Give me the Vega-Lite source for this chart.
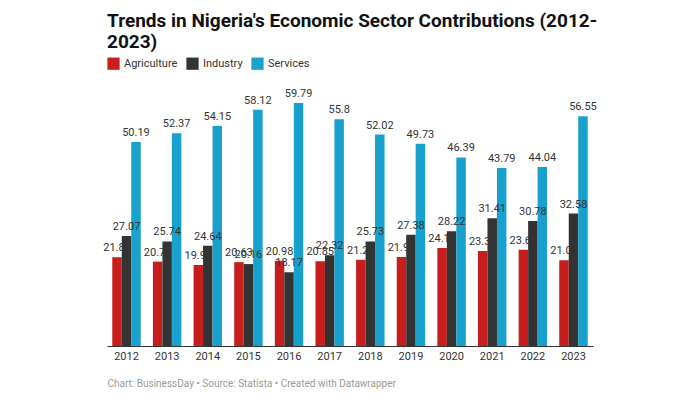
{
  "$schema": "https://vega.github.io/schema/vega-lite/v6.json",
  "width": 486,
  "height": 252,
  "autosize": {"type": "none"},
  "padding": {"left": 107, "top": 94, "right": 107, "bottom": 54},
  "background": "white",
  "title": {
    "text": ["Trends in Nigeria's Economic Sector Contributions (2012-", "2023)"],
    "anchor": "start",
    "frame": "group",
    "font": "Roboto",
    "fontSize": 19,
    "fontWeight": "bold",
    "color": "#111111",
    "lineHeight": 21,
    "offset": 5
  },
  "data": {
    "values": [
      {"Year": "2012", "Sector": "Agriculture", "Value": 21.86},
      {"Year": "2012", "Sector": "Industry", "Value": 27.07},
      {"Year": "2012", "Sector": "Services", "Value": 50.19},
      {"Year": "2013", "Sector": "Agriculture", "Value": 20.76},
      {"Year": "2013", "Sector": "Industry", "Value": 25.74},
      {"Year": "2013", "Sector": "Services", "Value": 52.37},
      {"Year": "2014", "Sector": "Agriculture", "Value": 19.93},
      {"Year": "2014", "Sector": "Industry", "Value": 24.64},
      {"Year": "2014", "Sector": "Services", "Value": 54.15},
      {"Year": "2015", "Sector": "Agriculture", "Value": 20.63},
      {"Year": "2015", "Sector": "Industry", "Value": 20.16},
      {"Year": "2015", "Sector": "Services", "Value": 58.12},
      {"Year": "2016", "Sector": "Agriculture", "Value": 20.98},
      {"Year": "2016", "Sector": "Industry", "Value": 18.17},
      {"Year": "2016", "Sector": "Services", "Value": 59.79},
      {"Year": "2017", "Sector": "Agriculture", "Value": 20.85},
      {"Year": "2017", "Sector": "Industry", "Value": 22.32},
      {"Year": "2017", "Sector": "Services", "Value": 55.8},
      {"Year": "2018", "Sector": "Agriculture", "Value": 21.21},
      {"Year": "2018", "Sector": "Industry", "Value": 25.73},
      {"Year": "2018", "Sector": "Services", "Value": 52.02},
      {"Year": "2019", "Sector": "Agriculture", "Value": 21.91},
      {"Year": "2019", "Sector": "Industry", "Value": 27.38},
      {"Year": "2019", "Sector": "Services", "Value": 49.73},
      {"Year": "2020", "Sector": "Agriculture", "Value": 24.14},
      {"Year": "2020", "Sector": "Industry", "Value": 28.22},
      {"Year": "2020", "Sector": "Services", "Value": 46.39},
      {"Year": "2021", "Sector": "Agriculture", "Value": 23.36},
      {"Year": "2021", "Sector": "Industry", "Value": 31.41},
      {"Year": "2021", "Sector": "Services", "Value": 43.79},
      {"Year": "2022", "Sector": "Agriculture", "Value": 23.69},
      {"Year": "2022", "Sector": "Industry", "Value": 30.78},
      {"Year": "2022", "Sector": "Services", "Value": 44.04},
      {"Year": "2023", "Sector": "Agriculture", "Value": 21.07},
      {"Year": "2023", "Sector": "Industry", "Value": 32.58},
      {"Year": "2023", "Sector": "Services", "Value": 56.55}
    ]
  },
  "encoding": {
    "x": {
      "field": "Year",
      "type": "nominal",
      "scale": {"paddingInner": 0.3, "paddingOuter": 0.13},
      "axis": {
        "title": "Chart: BusinessDay • Source: Statista • Created with Datawrapper",
        "titleAnchor": "start",
        "titleAlign": "left",
        "titleFont": "Roboto",
        "titleFontSize": 10,
        "titleFontWeight": "normal",
        "titleColor": "#9a9a9a",
        "titlePadding": 17,
        "labelAngle": 0,
        "labelFont": "Roboto",
        "labelFontSize": 11,
        "labelColor": "#333333",
        "labelPadding": 4,
        "ticks": false,
        "domainColor": "#333333",
        "domainWidth": 1
      }
    },
    "xOffset": {"field": "Sector", "type": "nominal", "scale": {"paddingInner": 0, "paddingOuter": 0}},
    "y": {
      "field": "Value",
      "type": "quantitative",
      "scale": {"domain": [0, 62], "nice": false},
      "axis": null
    }
  },
  "layer": [
    {
      "transform": [{"filter": "datum.Sector === 'Agriculture'"}],
      "mark": {"type": "bar"},
      "encoding": {
        "color": {
          "field": "Sector",
          "type": "nominal",
          "scale": {"domain": ["Agriculture", "Industry", "Services"], "range": ["#c71e1d", "#333333", "#18a1cd"]},
          "legend": {
            "title": null,
            "orient": "top",
            "direction": "horizontal",
            "symbolType": "square",
            "symbolSize": 150,
            "symbolStrokeWidth": 0,
            "labelFont": "Roboto",
            "labelFontSize": 11,
            "labelColor": "#333333",
            "columnPadding": 8,
            "offset": 24
          }
        }
      }
    },
    {
      "transform": [{"filter": "datum.Sector === 'Agriculture'"}],
      "mark": {"type": "text", "baseline": "bottom", "dy": -4, "font": "Roboto", "fontSize": 11, "color": "#333333"},
      "encoding": {"text": {"field": "Value", "type": "quantitative"}}
    },
    {
      "transform": [{"filter": "datum.Sector === 'Industry'"}],
      "mark": {"type": "bar"},
      "encoding": {"color": {"field": "Sector", "type": "nominal"}}
    },
    {
      "transform": [{"filter": "datum.Sector === 'Services'"}],
      "mark": {"type": "bar"},
      "encoding": {"color": {"field": "Sector", "type": "nominal"}}
    },
    {
      "transform": [{"filter": "datum.Sector === 'Industry'"}],
      "mark": {"type": "text", "baseline": "bottom", "dy": -4, "font": "Roboto", "fontSize": 11, "color": "#333333"},
      "encoding": {"text": {"field": "Value", "type": "quantitative"}}
    },
    {
      "transform": [{"filter": "datum.Sector === 'Services'"}],
      "mark": {"type": "text", "baseline": "bottom", "dy": -4, "font": "Roboto", "fontSize": 11, "color": "#333333"},
      "encoding": {"text": {"field": "Value", "type": "quantitative"}}
    }
  ],
  "config": {"view": {"stroke": null}}
}
